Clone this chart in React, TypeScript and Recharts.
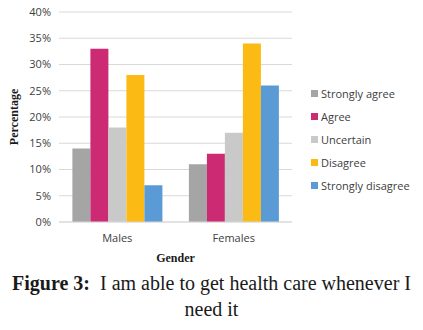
import React from "react";
import {
  BarChart,
  Bar,
  XAxis,
  YAxis,
  CartesianGrid,
} from "recharts";

const genders = ["Males", "Females"];
const stronglyAgree = [14, 11];
const agree = [33, 13];
const uncertain = [18, 17];
const disagree = [28, 34];
const stronglyDisagree = [7, 26];
const yTicks = [0, 5, 10, 15, 20, 25, 30, 35, 40];

const series = [
  { key: "sa", name: "Strongly agree", color: "#a5a5a5", values: stronglyAgree },
  { key: "a", name: "Agree", color: "#cc2b73", values: agree },
  { key: "u", name: "Uncertain", color: "#c9c9c9", values: uncertain },
  { key: "d", name: "Disagree", color: "#fcbb14", values: disagree },
  { key: "sd", name: "Strongly disagree", color: "#5b9bd5", values: stronglyDisagree },
];

const data = genders.map((g, i) => {
  const row: Record<string, string | number> = { gender: g };
  series.forEach((s) => {
    row[s.key] = s.values[i];
  });
  return row;
});

const tickFont = { fontFamily: "'Open Sans', sans-serif", fontSize: 11, fill: "#404040" };

// legend drawn as plain html next to the plot
const LegendBox = () => (
  <div
    style={{
      position: "absolute",
      left: 311,
      top: 82,
      fontFamily: "'Open Sans', sans-serif",
      fontSize: 11,
      color: "#404040",
    }}
  >
    {series.map((s) => (
      <div key={s.key} style={{ display: "flex", alignItems: "center", height: 23 }}>
        <span
          style={{ width: 7, height: 7, background: s.color, display: "inline-block", marginRight: 3 }}
        />
        <span>{s.name}</span>
      </div>
    ))}
  </div>
);

export default function App() {
  return (
    <div
      style={{
        position: "absolute",
        left: 0,
        top: 0,
        width: 423,
        height: 330,
        background: "#fff",
      }}
    >
      <BarChart
        width={423}
        height={265}
        data={data}
        margin={{ top: 12, right: 131, bottom: 0, left: 0 }}
        barCategoryGap="11.5%"
        barGap={0}
      >
        <CartesianGrid vertical={false} stroke="#d9d9d9" />
        <XAxis
          dataKey="gender"
          height={43}
          axisLine={{ stroke: "#d9d9d9" }}
          tickLine={false}
          tick={tickFont}
          tickMargin={6}
          label={{
            value: "Gender",
            position: "insideBottom",
            offset: 3,
            style: {
              fontFamily: "'Liberation Serif', serif",
              fontWeight: "bold",
              fontSize: 12,
              fill: "#1a1a1a",
            },
          }}
        />
        <YAxis
          width={59}
          domain={[0, 40]}
          ticks={yTicks}
          axisLine={false}
          tickLine={false}
          tick={tickFont}
          tickFormatter={(v) => `${v}%`}
          label={{
            value: "Percentage",
            angle: -90,
            position: "insideLeft",
            offset: 14,
            style: {
              fontFamily: "'Liberation Serif', serif",
              fontWeight: "bold",
              fontSize: 12,
              fill: "#1a1a1a",
              textAnchor: "middle",
            },
          }}
        />
        {series.map((s) => (
          <Bar key={s.key} dataKey={s.key} name={s.name} fill={s.color} isAnimationActive={false} />
        ))}
      </BarChart>
      <LegendBox />
      <div
        style={{
          position: "absolute",
          left: 0,
          top: 270,
          width: 423,
          textAlign: "center",
          fontFamily: "'Liberation Serif', serif",
          fontSize: 20,
          lineHeight: "26px",
          color: "#1a1a1a",
        }}
      >
        <b>Figure 3:</b>&nbsp; I am able to get health care whenever I
        <br />
        need it
      </div>
    </div>
  );
}
